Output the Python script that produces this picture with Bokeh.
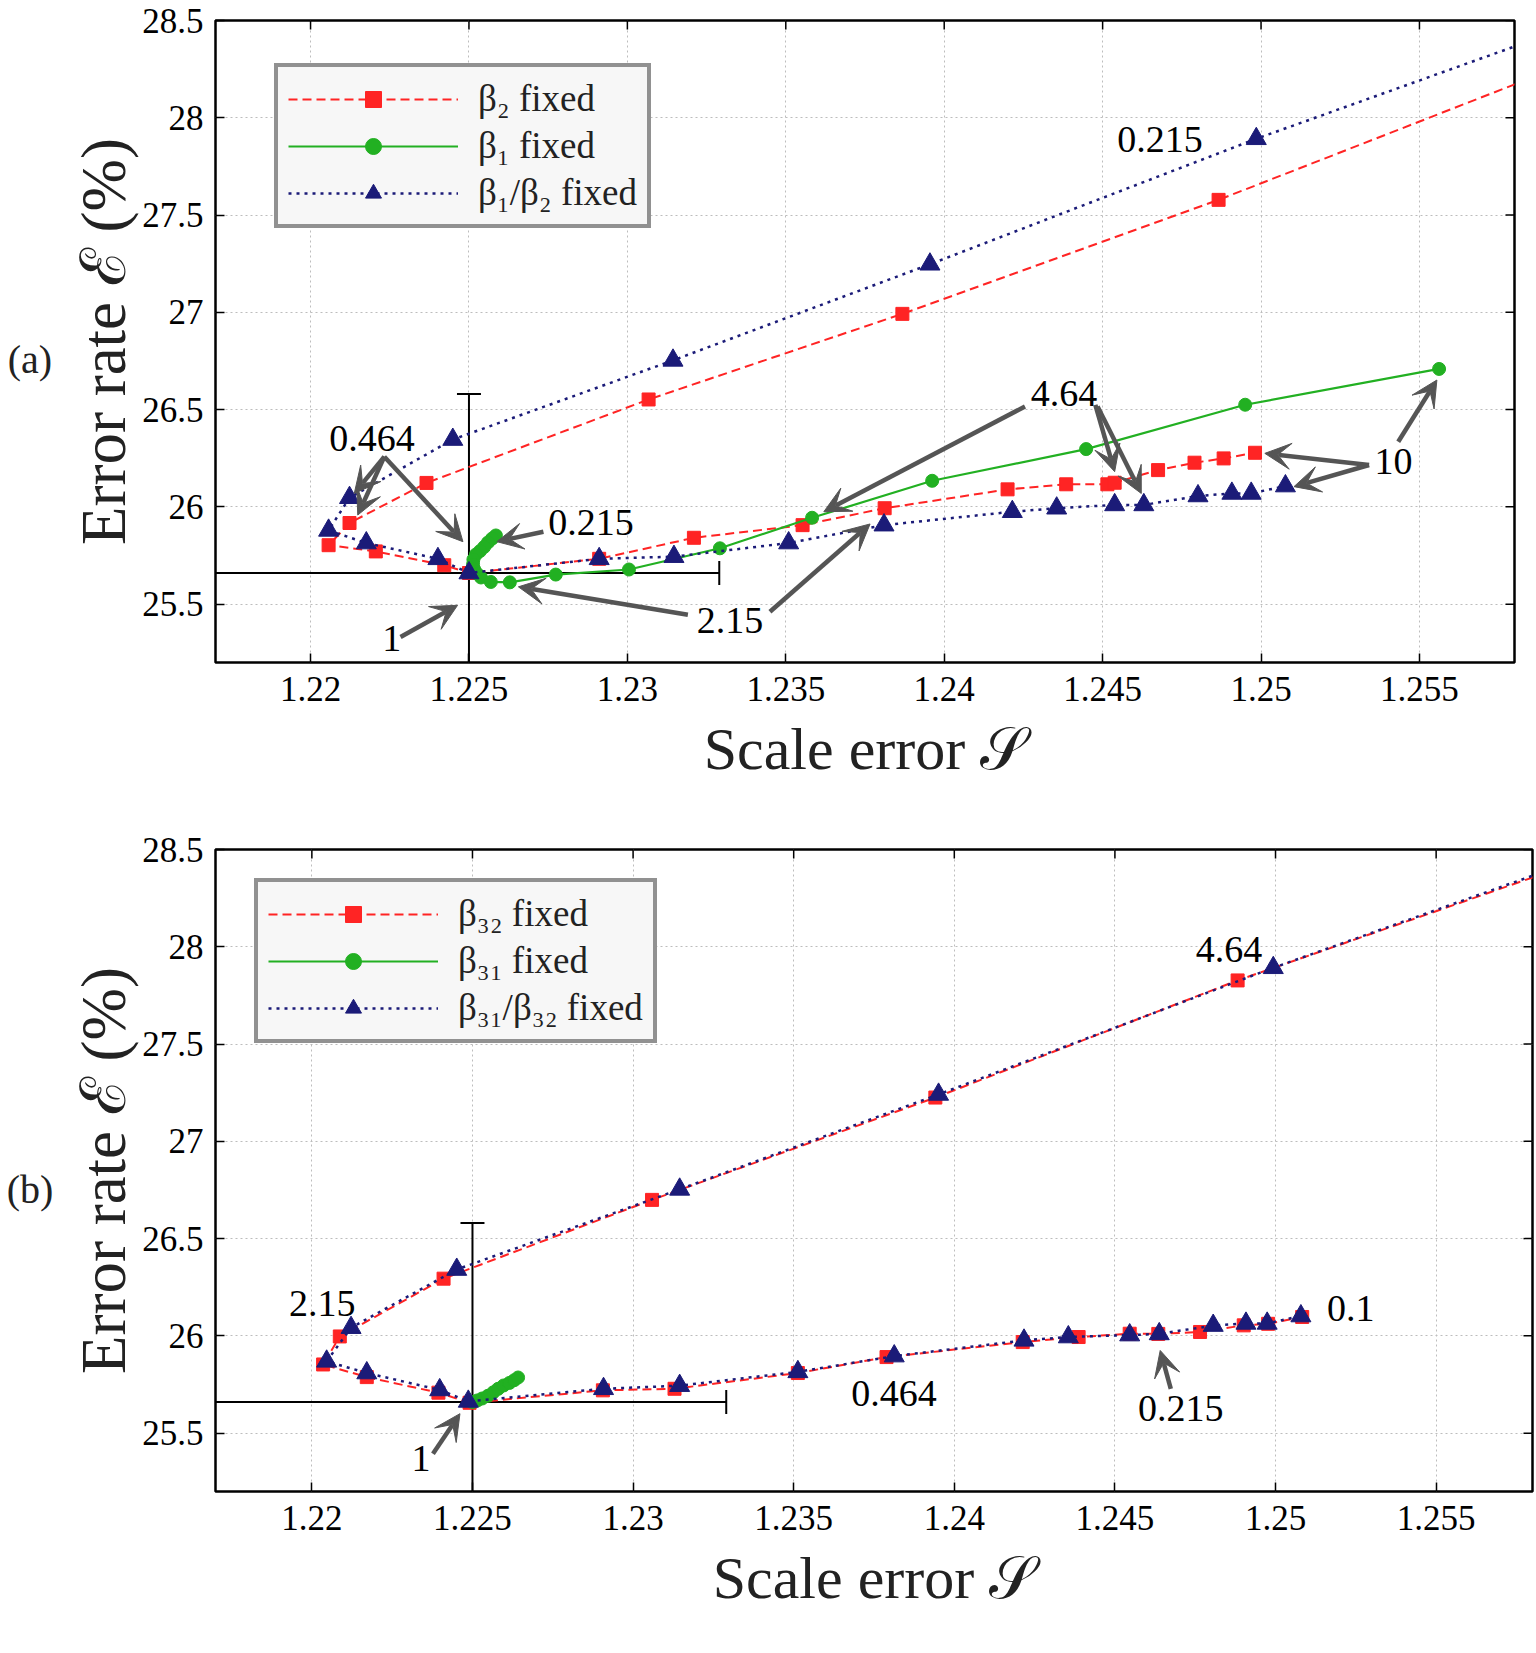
import math
from bokeh.plotting import figure
from bokeh.layouts import column, row
from bokeh.models import FixedTicker, Range1d, Arrow, VeeHead, Label, Div
from bokeh.embed import file_html
from bokeh.resources import INLINE

# ---------------- axes ----------------
X_TICKS = [1.22, 1.225, 1.23, 1.235, 1.24, 1.245, 1.25, 1.255]
X_TICK_LABELS = ["1.22", "1.225", "1.23", "1.235", "1.24", "1.245", "1.25", "1.255"]
Y_TICKS = [25.5, 26.0, 26.5, 27.0, 27.5, 28.0, 28.5]
Y_TICK_LABELS = ["25.5", "26", "26.5", "27", "27.5", "28", "28.5"]
X_RANGE = (1.217, 1.258)
Y_RANGE = (25.2, 28.5)
X_LABEL = "Scale error 𝒮"
Y_LABEL = "Error rate ℰ (%)"

# ---------------- baseline cross (error bar) ----------------
BASE_S = 1.225
BASE_E = 25.66
ERR_S_HI = 0.0079
ERR_S_LO = 0.012
ERR_E_HI = 0.92
ERR_E_LO = 1.0

# ---------------- panel (a) ----------------
a_labels = ["β₂ fixed", "β₁ fixed", "β₁/β₂ fixed"]
a_beta2_s = [1.2605, 1.24866, 1.23868, 1.23067, 1.22366, 1.22123, 1.22057, 1.22206, 1.22422, 1.22500,
             1.22911, 1.23210, 1.23553, 1.23812, 1.24200, 1.24385, 1.24515, 1.24538, 1.24675, 1.24790,
             1.24882, 1.24981]
a_beta2_e = [28.33, 27.578, 26.992, 26.552, 26.123, 25.917, 25.803, 25.771, 25.700, 25.660,
             25.733, 25.841, 25.906, 25.993, 26.090, 26.116, 26.116, 26.124, 26.189, 26.227,
             26.249, 26.278]
a_beta1_s = [1.22585, 1.22573, 1.22560, 1.22548, 1.22535, 1.22522, 1.22514, 1.22513, 1.22516, 1.22525,
             1.22538, 1.22569, 1.22629, 1.22774, 1.23005, 1.23292, 1.23583, 1.23962, 1.24448, 1.24950,
             1.25562]
a_beta1_e = [25.853, 25.837, 25.817, 25.794, 25.773, 25.755, 25.729, 25.704, 25.680, 25.658,
             25.637, 25.614, 25.612, 25.652, 25.678, 25.787, 25.944, 26.134, 26.297, 26.525,
             26.709]
a_ratio_s = [1.2615, 1.24985, 1.23955, 1.23144, 1.22449, 1.22123, 1.22057, 1.22176, 1.22402, 1.22500,
             1.22911, 1.23147, 1.23509, 1.23810, 1.24215, 1.24355, 1.24538, 1.24630, 1.24801, 1.24908,
             1.24969, 1.25077]
a_ratio_e = [28.57, 27.892, 27.247, 26.753, 26.346, 26.047, 25.879, 25.814, 25.733, 25.660,
             25.733, 25.744, 25.814, 25.906, 25.975, 25.993, 26.010, 26.010, 26.056, 26.069,
             26.069, 26.107]
# annotation texts (text, s, e)
a_notes = [("0.215", 1.24681, 27.887), ("0.464", 1.22194, 26.353), ("0.215", 1.22885, 25.918),
           ("1", 1.22256, 25.323), ("2.15", 1.23324, 25.418), ("4.64", 1.24378, 26.584),
           ("10", 1.25418, 26.232)]
# annotation arrows (s_start, e_start, s_end, e_end)
a_arrows = [(1.22233, 26.258, 1.22138, 26.069), (1.22233, 26.258, 1.22149, 25.958),
            (1.22233, 26.258, 1.22481, 25.821), (1.22735, 25.872, 1.22588, 25.821),
            (1.22284, 25.331, 1.22464, 25.494), (1.23191, 25.445, 1.22656, 25.589),
            (1.23450, 25.461, 1.23766, 25.912), (1.24255, 26.516, 1.23620, 25.975),
            (1.24477, 26.524, 1.24538, 26.181), (1.24484, 26.516, 1.24622, 26.069),
            (1.25433, 26.335, 1.25555, 26.652), (1.25341, 26.215, 1.25012, 26.275),
            (1.25341, 26.215, 1.25104, 26.104)]

# ---------------- panel (b) ----------------
b_labels = ["β₃₂ fixed", "β₃₁ fixed", "β₃₁/β₃₂ fixed"]
b_beta32_s = [1.2605, 1.24882, 1.23941, 1.23059, 1.22410, 1.22087, 1.22035, 1.22171, 1.22394, 1.22491,
              1.22906, 1.23129, 1.23513, 1.23789, 1.24213, 1.24387, 1.24546, 1.24635, 1.24765, 1.24901,
              1.24977, 1.25083]
b_beta32_e = [28.50, 27.827, 27.225, 26.699, 26.294, 25.997, 25.853, 25.788, 25.708, 25.656,
              25.720, 25.728, 25.809, 25.891, 25.968, 25.994, 26.011, 26.010, 26.020, 26.054,
              26.062, 26.097]
b_beta31_s = [1.22500, 1.22515, 1.22530, 1.22548, 1.22565, 1.22580, 1.22597, 1.22615, 1.22630, 1.22642]
b_beta31_e = [25.660, 25.668, 25.678, 25.692, 25.710, 25.728, 25.745, 25.758, 25.772, 25.786]
b_ratio_s = [1.2615, 1.24993, 1.23951, 1.23145, 1.22451, 1.22122, 1.22046, 1.22171, 1.22398, 1.22487,
             1.22908, 1.23145, 1.23513, 1.23813, 1.24217, 1.24355, 1.24546, 1.24638, 1.24806, 1.24908,
             1.24974, 1.25079]
b_ratio_e = [28.57, 27.892, 27.241, 26.753, 26.341, 26.042, 25.869, 25.809, 25.722, 25.663,
             25.728, 25.744, 25.815, 25.896, 25.977, 25.994, 26.004, 26.010, 26.053, 26.064,
             26.064, 26.102]
b_notes = [("4.64", 1.24855, 27.985), ("2.15", 1.22032, 26.166), ("1", 1.22340, 25.368),
           ("0.464", 1.23812, 25.702), ("0.215", 1.24705, 25.625), ("0.1", 1.25234, 26.140)]
b_arrows = [(1.22377, 25.394, 1.22461, 25.600), (1.24674, 25.728, 1.24641, 25.925)]

# ---------------- styles ----------------
RED = "#ff2424"
GREEN = "#22b022"
NAVY = "#1b1b78"
ARROW_C = "#555555"
TICK_FONT = "Liberation Sans Narrow"
SERIF = "Liberation Serif"
TAG_W = 60


def make_panel(height, border_top, border_bottom, border_right, series, labels, notes, arrows,
               legend_loc):
    p = figure(width=1536 - TAG_W, height=height, output_backend="svg", toolbar_location=None,
               x_range=Range1d(*X_RANGE), y_range=Range1d(*Y_RANGE),
               min_border_left=215 - TAG_W, min_border_right=border_right,
               min_border_top=border_top, min_border_bottom=border_bottom,
               background_fill_color="white", border_fill_color="white")
    p.outline_line_color = "black"
    p.outline_line_width = 2.5
    p.outline_line_alpha = 1

    p.xaxis.ticker = FixedTicker(ticks=X_TICKS)
    p.yaxis.ticker = FixedTicker(ticks=Y_TICKS)
    p.xaxis.major_label_overrides = dict(zip(X_TICKS, X_TICK_LABELS))
    p.yaxis.major_label_overrides = dict(zip(Y_TICKS, Y_TICK_LABELS))
    for ax in (p.xaxis[0], p.yaxis[0]):
        ax.major_tick_in = 9
        ax.major_tick_out = 0
        ax.major_tick_line_width = 1.5
        ax.minor_tick_line_color = None
        ax.axis_line_color = None
        ax.major_label_text_font = TICK_FONT
        ax.major_label_text_font_size = "35px"
        ax.major_label_text_color = "black"
        ax.axis_label_text_font = SERIF
        ax.axis_label_text_font_style = "normal"
        ax.axis_label_text_color = "#222222"
    p.xaxis.axis_label = X_LABEL
    p.yaxis.axis_label = Y_LABEL
    p.xaxis.axis_label_text_font_size = "60px"
    p.yaxis.axis_label_text_font_size = "63px"
    p.xaxis.major_label_standoff = 14
    p.yaxis.major_label_standoff = 12
    p.xaxis.axis_label_standoff = 12
    p.yaxis.axis_label_standoff = 0

    # mirrored inward ticks on the top and right edges (half of each dash is clipped away)
    p.scatter(x=X_TICKS, y=[Y_RANGE[1]] * len(X_TICKS), marker="dash", angle=math.pi / 2, size=18,
              line_color="black", line_width=1.5)
    p.scatter(x=[X_RANGE[1]] * len(Y_TICKS), y=Y_TICKS, marker="dash", size=18,
              line_color="black", line_width=1.5)

    p.grid.grid_line_color = "#bdbdbd"
    p.grid.grid_line_dash = "2 3"
    p.grid.grid_line_width = 1

    # baseline cross with error-bar caps
    p.segment(x0=[BASE_S - ERR_S_LO, BASE_S], y0=[BASE_E, BASE_E - ERR_E_LO],
              x1=[BASE_S + ERR_S_HI, BASE_S], y1=[BASE_E, BASE_E + ERR_E_HI],
              line_color="black", line_width=2)
    p.scatter(x=[BASE_S + ERR_S_HI], y=[BASE_E], marker="dash", angle=math.pi / 2, size=24,
              line_color="black", line_width=2)
    p.scatter(x=[BASE_S], y=[BASE_E + ERR_E_HI], marker="dash", size=24,
              line_color="black", line_width=2)

    (s1, e1), (s2, e2), (s3, e3) = series
    p.line(s1, e1, line_color=RED, line_width=2, line_dash="9 5", legend_label=labels[0])
    p.scatter(s1, e1, marker="square", size=13, fill_color=RED, line_color=RED, legend_label=labels[0])
    p.line(s2, e2, line_color=GREEN, line_width=2.2, legend_label=labels[1])
    p.scatter(s2, e2, marker="circle", size=13, fill_color=GREEN, line_color=GREEN, legend_label=labels[1])
    p.line(s3, e3, line_color=NAVY, line_width=2.5, line_dash="3 5", legend_label=labels[2])
    p.scatter(s3, e3, marker="triangle", size=20, fill_color=NAVY, line_color=NAVY, legend_label=labels[2])

    for (xs, ys, xe, ye) in arrows:
        p.add_layout(Arrow(end=VeeHead(size=26, fill_color=ARROW_C, line_color=ARROW_C),
                           x_start=xs, y_start=ys, x_end=xe, y_end=ye,
                           line_color=ARROW_C, line_width=4.5))
    for (txt, xs, ys) in notes:
        p.add_layout(Label(x=xs, y=ys, text=txt, text_font=SERIF, text_font_size="38px",
                           text_align="center", text_baseline="middle", text_color="black"))

    lg = p.legend[0]
    lg.location = legend_loc
    lg.border_line_color = "#2b2b2b"
    lg.border_line_width = 4
    lg.background_fill_color = "#f7f7f7"
    lg.background_fill_alpha = 1
    lg.padding = 10
    lg.spacing = 4
    lg.margin = 0
    lg.glyph_width = 170
    lg.glyph_height = 40
    lg.label_height = 40
    lg.label_standoff = 20
    lg.label_text_font = SERIF
    lg.label_text_font_size = "37px"
    lg.label_text_color = "#222222"
    return p


def tag(text, height, top):
    return Div(text=f'<div style="position:absolute; left:0px; top:{top}px; width:{TAG_W}px; '
                    f'text-align:center; font-family:\'Liberation Serif\'; font-size:40px; '
                    f'color:#222; line-height:1;">{text}</div>',
               width=TAG_W, height=height, margin=0)


top = make_panel(790, 20, 128, 22,
                 [(a_beta2_s, a_beta2_e), (a_beta1_s, a_beta1_e), (a_ratio_s, a_ratio_e)],
                 a_labels, a_notes, a_arrows, (59, 434))
bottom = make_panel(863, 59, 162, 4,
                    [(b_beta32_s, b_beta32_e), (b_beta31_s, b_beta31_e), (b_ratio_s, b_ratio_e)],
                    b_labels, b_notes, b_arrows, (39, 448))

layout = column(row(tag("(a)", 790, 340), top, spacing=0),
                row(tag("(b)", 863, 380), bottom, spacing=0), spacing=0)
open("out.html", "w").write(file_html(layout, INLINE))
